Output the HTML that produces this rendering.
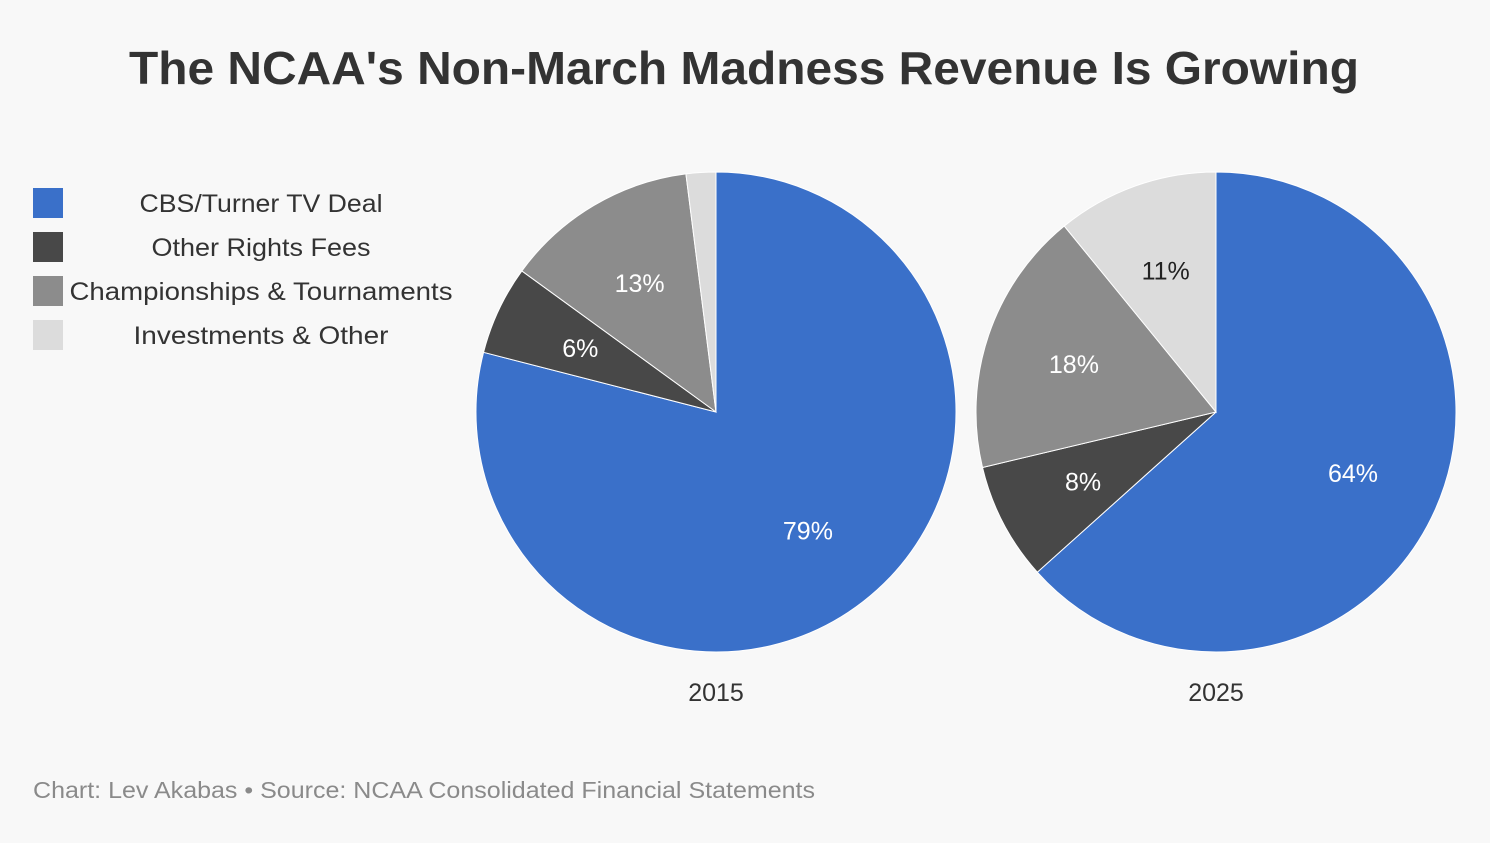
<!DOCTYPE html>
<html><head><meta charset="utf-8">
<style>
html,body{margin:0;padding:0;background:#f8f8f8;}
body{width:1490px;height:838px;overflow:hidden;font-family:"Liberation Sans",sans-serif;}
</style></head>
<body>
<svg width="1490" height="838" viewBox="0 0 1490 838">
<rect width="1490" height="838" fill="#f8f8f8"/>
<text x="744" y="84" text-anchor="middle" font-size="46" font-weight="bold" fill="#333" textLength="1230" lengthAdjust="spacingAndGlyphs">The NCAA's Non-March Madness Revenue Is Growing</text>
<g id="legend"></g>
<g id="pies"></g>
<text x="33" y="798" font-size="23" fill="#8a8a8a" textLength="782" lengthAdjust="spacingAndGlyphs">Chart: Lev Akabas • Source: NCAA Consolidated Financial Statements</text>
</svg>
<script>
const categories = ["CBS/Turner TV Deal","Other Rights Fees","Championships & Tournaments","Investments & Other"];
const years = ["2015","2025"];
const values2015 = [79,6,13,2];
const values2025 = [64,8,18,11];
const colors = ["#3a70c9","#484848","#8c8c8c","#dcdcdc"];
const labelColors = ["#fff","#fff","#fff","#222"];
const legendWidths = [243,219,383,255];
const NS="http://www.w3.org/2000/svg";
function mk(t,a){const e=document.createElementNS(NS,t);for(const k in a)e.setAttribute(k,a[k]);return e;}
const leg=document.getElementById('legend');
categories.forEach((c,i)=>{
  const y=188+i*44;
  const r=mk('rect',{x:33,y:y,width:30,height:30,fill:colors[i]});
  
  
  leg.appendChild(r);
  const t=mk('text',{x:261,y:y+24,'text-anchor':'middle','font-size':25,fill:'#333',textLength:legendWidths[i],lengthAdjust:'spacingAndGlyphs'});
  
  
  t.textContent=c;leg.appendChild(t);
});
const pies=document.getElementById('pies');
const series=[values2015,values2025];
const centers=[716,1216];
const cy=412, R=240;
function pt(a,r,cx){return [cx+r*Math.sin(a), cy-r*Math.cos(a)];}
series.forEach((vals,si)=>{
  const cx=centers[si];
  const total=vals.reduce((a,b)=>a+b,0);
  let a0=0;
  vals.forEach((v,i)=>{
    const a1=a0+v/total*2*Math.PI;
    const p0=pt(a0,R,cx),p1=pt(a1,R,cx);
    const large=(a1-a0)>Math.PI?1:0;
    const p=mk('path',{d:`M${cx},${cy} L${p0[0]},${p0[1]} A${R},${R} 0 ${large} 1 ${p1[0]},${p1[1]} Z`,fill:colors[i],stroke:'#fff','stroke-width':1});
    
    
    pies.appendChild(p);
    if(v>=5){
      const m=(a0+a1)/2, lp=pt(m,R*0.625,cx);
      const t=mk('text',{x:lp[0],y:lp[1]+9,'text-anchor':'middle','font-size':25,fill:labelColors[i]});
      
      
      t.textContent=v+'%';pies.appendChild(t);
    }
    a0=a1;
  });
  const yt=mk('text',{x:cx,y:701,'text-anchor':'middle','font-size':25,fill:'#333'});
  
  
  yt.textContent=years[si];pies.appendChild(yt);
});
</script>
</body></html>
